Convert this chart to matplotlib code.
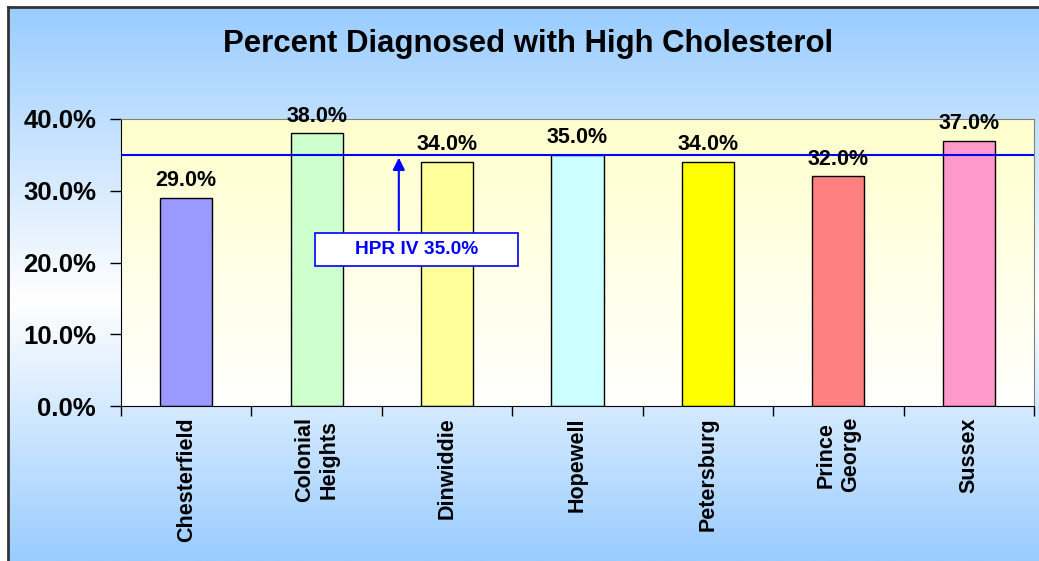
import numpy as np
import matplotlib
matplotlib.use("Agg")
import matplotlib.pyplot as plt
from matplotlib.colors import LinearSegmentedColormap
from matplotlib.patches import Rectangle

plt.rcParams['font.family'] = ['Liberation Sans', 'DejaVu Sans']
plt.rcParams['font.weight'] = 'bold'

# данные
counties = ["Chesterfield", "Colonial\nHeights", "Dinwiddie", "Hopewell",
            "Petersburg", "Prince\nGeorge", "Sussex"]
percents = [29.0, 38.0, 34.0, 35.0, 34.0, 32.0, 37.0]
bar_colors = ["#9999ff", "#ccffcc", "#ffff99", "#ccffff", "#ffff00", "#ff8080", "#ff99cc"]
hpr_value = 35.0
hpr_label = "HPR IV 35.0%"
y_ticks = [0, 10, 20, 30, 40]

W, H = 1039, 561
fig = plt.figure(figsize=(W / 100, H / 100), dpi=100)
fig.patch.set_facecolor("white")

# фон: голубой -> белый -> голубой
bg = fig.add_axes([8 / W, 0, 1 - 8 / W, 1 - 7 / H], zorder=-2)
bg_cmap = LinearSegmentedColormap.from_list(
    "bg", [(0, "#99ccff"), (0.53, "#ffffff"), (1.0, "#99ccff")])
grad = np.linspace(0, 1, 256).reshape(-1, 1)
bg.imshow(grad, aspect="auto", cmap=bg_cmap, extent=[0, 1, 0, 1], origin="upper")
bg.set_axis_off()
fig.add_artist(plt.Line2D([8 / W, 8 / W], [0, 1 - 7 / H], color="#333333", lw=2))
fig.add_artist(plt.Line2D([8 / W, 1], [1 - 7 / H, 1 - 7 / H], color="#333333", lw=2))

ax = fig.add_axes([121 / W, 1 - 406 / H, (1034 - 121) / W, (406 - 119) / H])
ax.patch.set_alpha(0)
x = np.arange(len(counties))
ax.set_xlim(-0.5, len(counties) - 0.5)
ax.set_ylim(0, 40)

# фон области графика: светло-жёлтый -> белый
pa_cmap = LinearSegmentedColormap.from_list("pa", ["#ffffcc", "#ffffff"])
ax.imshow(grad, aspect="auto", cmap=pa_cmap, extent=[-0.5, len(counties) - 0.5, 0, 40],
          origin="upper", zorder=0)

ax.bar(x, percents, width=0.4, color=bar_colors, edgecolor="black", linewidth=1, zorder=2)
for xi, v in zip(x, percents):
    ax.annotate("{:.1f}%".format(v), (xi, v), xytext=(0, 8.5), textcoords="offset points",
                ha="center", va="baseline", fontsize=15.5, fontweight="bold", zorder=5)

ax.axhline(hpr_value, color="#0000ff", lw=1.5, zorder=3)
ax.add_patch(Rectangle((0.987, 19.5), 1.555, 4.6, facecolor="white", edgecolor="#0000ff",
                       lw=1.2, zorder=4))
ax.text(0.987 + 1.555 / 2, 19.5 + 2.3, hpr_label, ha="center", va="center", color="#0000ff",
        fontsize=13.8, fontweight="bold", zorder=5)
ax.annotate("", xy=(1.63, hpr_value), xytext=(1.63, 24.1),
            arrowprops=dict(arrowstyle="-|>", color="#0000ff", lw=1.5, mutation_scale=18),
            zorder=5)

ax.set_yticks(y_ticks)
ax.set_yticklabels(["{:.1f}%".format(t) for t in y_ticks], fontsize=18.5, fontweight="bold")
ax.set_xticks(x)
ax.set_xticklabels(counties, rotation=90, fontsize=15.5, fontweight="bold",
                   multialignment="center")
ax.set_xticks(np.arange(-0.5, len(counties)), minor=True)
ax.tick_params(axis="x", which="major", length=0, pad=8)
ax.tick_params(axis="x", which="minor", direction="out", length=7, width=1)
ax.tick_params(axis="y", direction="out", length=8, width=1, pad=10)
ax.spines["top"].set_color("#808080")
ax.spines["right"].set_color("#808080")
ax.spines["left"].set_color("black")
ax.spines["bottom"].set_color("black")

fig.text(528.5 / W, 1 - 44 / H, "Percent Diagnosed with High Cholesterol",
         ha="center", va="center", fontsize=22.4, fontweight="bold")

fig.savefig("out.png", dpi=100)
